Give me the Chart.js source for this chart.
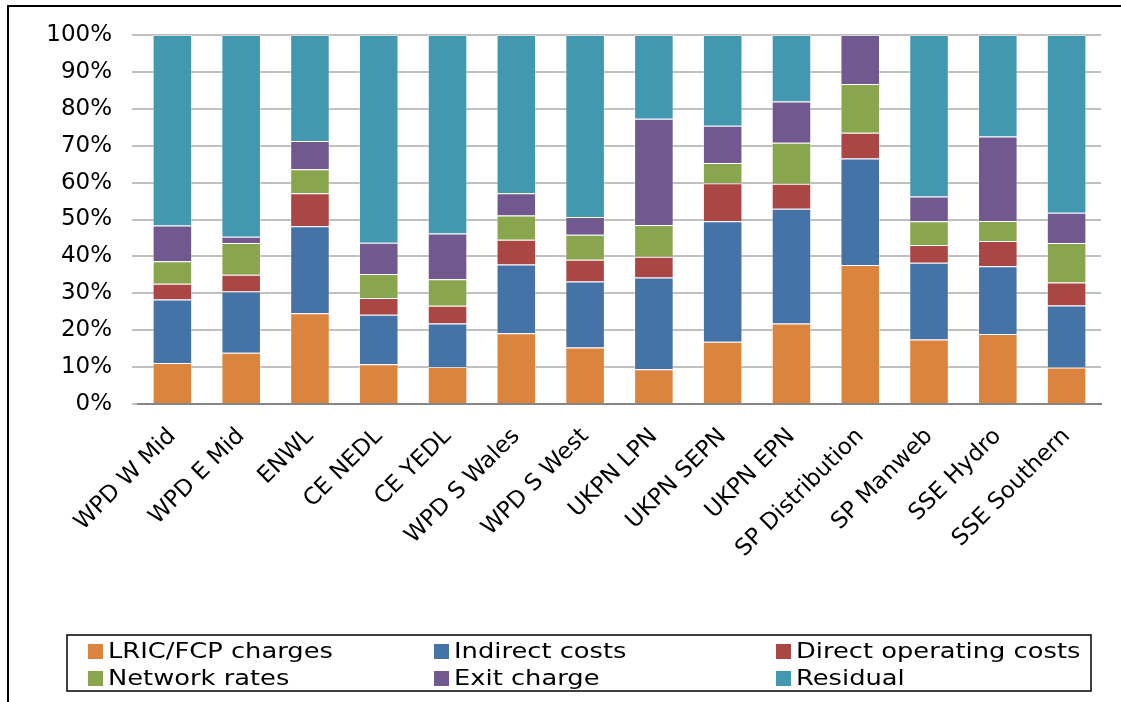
<!DOCTYPE html>
<html>
<head>
<meta charset="utf-8">
<title>Cost components by DNO</title>
<script src="https://cdn.jsdelivr.net/npm/chart.js"></script>
<style>
  html, body { margin: 0; padding: 0; background: #fff; }
</style>
</head>
<body>
<canvas id="costChart" width="1121" height="702"></canvas>
<script>
// DNO areas (x categories)
const dnos = ["WPD W Mid", "WPD E Mid", "ENWL", "CE NEDL", "CE YEDL", "WPD S Wales", "WPD S West",
  "UKPN LPN", "UKPN SEPN", "UKPN EPN", "SP Distribution", "SP Manweb", "SSE Hydro", "SSE Southern"];

// share of each component, %
const lricFcp   = [11.1, 13.9, 24.6, 10.8, 10.0, 19.2, 15.3,  9.4, 16.9, 21.8, 37.7, 17.5, 19.0,  9.9];
const indirect  = [17.2, 16.6, 23.6, 13.4, 11.8, 18.6, 17.9, 24.9, 32.6, 31.1, 28.8, 20.8, 18.3, 16.8];
const directOps = [ 4.3,  4.5,  8.9,  4.5,  4.8,  6.7,  5.9,  5.6, 10.3,  6.8,  7.0,  4.8,  6.9,  6.2];
const netRates  = [ 6.1,  8.6,  6.5,  6.5,  7.2,  6.6,  6.8,  8.6,  5.5, 11.1, 13.2,  6.4,  5.4, 10.7];
const exitChg   = [ 9.7,  1.7,  7.7,  8.5, 12.4,  6.0,  4.8, 28.8, 10.1, 11.2, 13.3,  6.7, 22.9,  8.2];
const residual  = [51.6, 54.7, 28.7, 56.3, 53.8, 42.9, 49.3, 22.7, 24.6, 18.0,  0.0, 43.8, 27.5, 48.2];

const yTicks = [0, 10, 20, 30, 40, 50, 60, 70, 80, 90, 100];

const series = [
  { label: "LRIC/FCP charges", data: lricFcp, color: "#DB843D" },
  { label: "Indirect costs", data: indirect, color: "#4572A7" },
  { label: "Direct operating costs", data: directOps, color: "#AA4643" },
  { label: "Network rates", data: netRates, color: "#89A54E" },
  { label: "Exit charge", data: exitChg, color: "#71588F" },
  { label: "Residual", data: residual, color: "#4198AF" },
];

const FONT = "'DejaVu Sans', Verdana, sans-serif";

// outer frame + boxed legend in three columns
const framePlugin = {
  id: "frame",
  afterDraw(chart) {
    const ctx = chart.ctx;
    ctx.save();
    ctx.strokeStyle = "#000";
    ctx.lineWidth = 2;
    ctx.beginPath();
    ctx.moveTo(8, 702);
    ctx.lineTo(8, 6);
    ctx.lineTo(1121, 6);
    ctx.stroke();

    ctx.lineWidth = 1.5;
    ctx.strokeRect(67, 635, 1024, 56);

    const cols = [88, 434, 776];
    const rows = [651, 678];
    chart.data.datasets.forEach((ds, i) => {
      const x = cols[i % 3];
      const y = rows[Math.floor(i / 3)];
      ctx.fillStyle = ds.backgroundColor;
      ctx.fillRect(x, y - 7, 15, 15);
      ctx.save();
      ctx.translate(x + 20, y);
      ctx.scale(1.17, 1);
      ctx.fillStyle = "#000";
      ctx.font = "22px " + FONT;
      ctx.textBaseline = "middle";
      ctx.fillText(ds.label, 0, 1);
      ctx.restore();
    });
    ctx.restore();
  }
};

new Chart(document.getElementById("costChart"), {
  type: "bar",
  data: {
    labels: dnos,
    datasets: series.map((s) => ({
      label: s.label,
      data: s.data,
      backgroundColor: s.color,
      borderColor: "rgba(255,255,255,0.35)",
      borderWidth: 1,
      barPercentage: 0.575,
      categoryPercentage: 1,
    })),
  },
  options: {
    responsive: false,
    animation: false,
    layout: { padding: { top: 35, right: 20, left: 0, bottom: 0 } },
    plugins: {
      legend: { display: false },
      tooltip: { enabled: false },
    },
    scales: {
      x: {
        stacked: true,
        grid: { display: false },
        border: { display: true, color: "#868686", width: 2 },
        ticks: {
          autoSkip: false,
          maxRotation: 45,
          minRotation: 45,
          padding: 11,
          color: "#000",
          font: { family: FONT, size: 23 },
        },
        afterFit(scale) { scale.height = 298; },
      },
      y: {
        stacked: true,
        min: 0,
        max: 100,
        afterBuildTicks(scale) { scale.ticks = yTicks.map((v) => ({ value: v })); },
        grid: { color: "#C0C0C0", lineWidth: 2, tickLength: 6 },
        border: { display: false },
        ticks: {
          color: "#000",
          padding: 20,
          font: { family: FONT, size: 23 },
          callback: (v) => v + "%",
        },
        afterFit(scale) { scale.width = 138; },
      },
    },
  },
  plugins: [framePlugin],
});
</script>
</body>
</html>
